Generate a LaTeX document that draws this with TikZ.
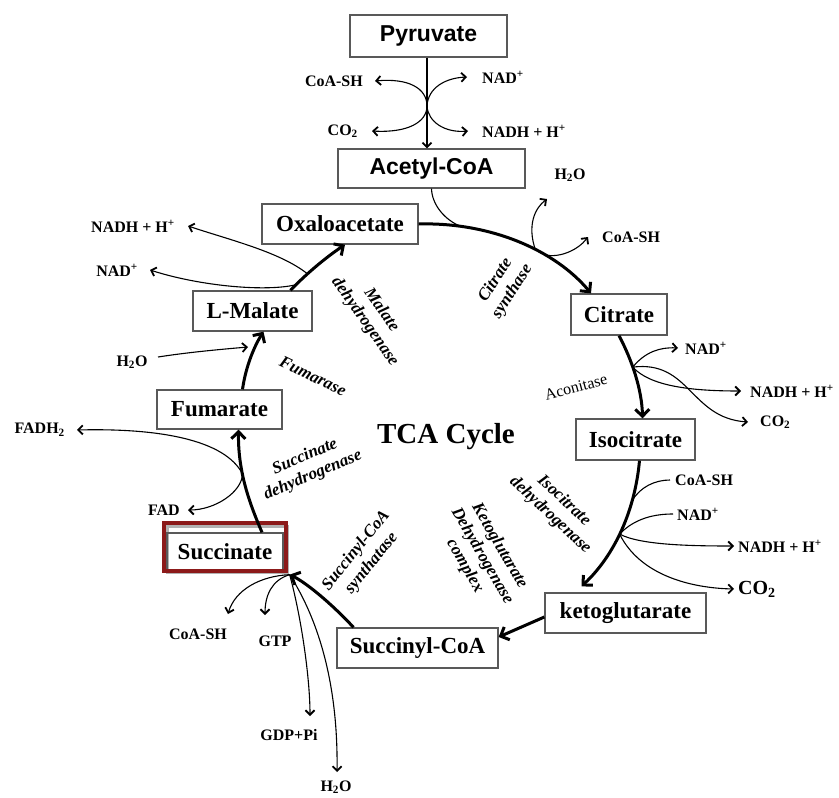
\documentclass[tikz,border=0pt]{standalone}
\usepackage{fontspec}
\setmainfont{Liberation Serif}
\newfontfamily\arialfont{Liberation Sans}
\usetikzlibrary{arrows.meta,calc}
\definecolor{boxgray}{gray}{0.35}
\definecolor{sucred}{RGB}{140,26,26}
\begin{document}
\begin{tikzpicture}[x=1pt,y=-1pt,
 box/.style={draw=boxgray,line width=1.3pt,inner sep=0pt,font=\fontsize{23}{26}\selectfont\bfseries},
 sansbox/.style={box,font=\fontsize{23}{26}\selectfont\arialfont\bfseries},
 lbl/.style={font=\fontsize{16}{18}\selectfont\bfseries,inner sep=0pt},
 enz/.style={font=\fontsize{17}{20}\selectfont\bfseries\itshape,align=center,inner sep=0pt},
 cyc/.style={line width=3pt,-{Straight Barb[length=7pt,width=14pt,line width=3pt]}},
 side/.style={line width=1.1pt,-{Straight Barb[length=4.5pt,width=9pt,line width=1.8pt]}},
 sideline/.style={line width=1.1pt},
]
\useasboundingbox (0,0) rectangle (839,798);

% boxes
\node[sansbox,minimum width=157pt,minimum height=42pt] (pyr) at (428.5,36) {Pyruvate};
\node[sansbox,minimum width=187pt,minimum height=39pt] (acc) at (431.5,168.5) {Acetyl-CoA};
\node[box,minimum width=156pt,minimum height=40pt] (oaa) at (340,224) {Oxaloacetate};
\node[box,minimum width=96pt,minimum height=41pt] (cit) at (619,314.5) {Citrate};
\node[box,minimum width=119pt,minimum height=41pt] (iso) at (635.5,439.5) {Isocitrate};
\node[box,minimum width=161pt,minimum height=40pt] (kg) at (625.5,613) {ketoglutarate};
\node[box,minimum width=161pt,minimum height=40pt] (scoa) at (417.5,648) {Succinyl-CoA};
\node[box,minimum width=125pt,minimum height=39pt] (fum) at (219.5,409.5) {Fumarate};
\node[box,minimum width=119pt,minimum height=40pt] (mal) at (252.5,311) {L-Malate};
\draw[black!30,line width=3pt] ($(165,524)+(2,2)$) rectangle ($(285,570)+(2,2)$);
\node[box,minimum width=116pt,minimum height=37pt] (suc) at (225,551.5) {Succinate};
\draw[sucred,line width=4pt] ($(suc.north west)+(-2,-9)$) rectangle ($(suc.south east)+(2,0)$);

\node[font=\fontsize{29}{32}\selectfont\bfseries] (tca) at (446,437) {TCA Cycle};

% small labels
\node[lbl,anchor=east] (pCoA) at (363,81) {CoA-SH};
\node[lbl,anchor=west] (pNAD) at (482,77) {NAD\textsuperscript{+}};
\node[lbl,anchor=east] (pCO2) at (358,131) {CO\textsubscript{2}};
\node[lbl,anchor=west] (pNADH) at (482,131) {NADH + H\textsuperscript{+}};
\node[lbl] (cH2O) at (570,175) {H\textsubscript{2}O};
\node[lbl,anchor=west] (cCoA) at (602,237) {CoA-SH};
\node[lbl,anchor=west] (iNAD) at (685,348) {NAD\textsuperscript{+}};
\node[lbl,anchor=west] (iNADH) at (750,391) {NADH + H\textsuperscript{+}};
\node[lbl,anchor=west] (iCO2) at (760,422) {CO\textsubscript{2}};
\node[lbl,anchor=west] (kCoA) at (675,480) {CoA-SH};
\node[lbl,anchor=west] (kNAD) at (677,514) {NAD\textsuperscript{+}};
\node[lbl,anchor=west] (kNADH) at (738,546) {NADH + H\textsuperscript{+}};
\node[lbl,anchor=west,font=\fontsize{20}{22}\selectfont\bfseries] (kCO2) at (738,589) {CO\textsubscript{2}};
\node[lbl] (sCoA) at (198,634) {CoA-SH};
\node[lbl] (sGTP) at (275,641) {GTP};
\node[lbl] (sGDP) at (289,735) {GDP+Pi};
\node[lbl] (sH2O) at (336,787) {H\textsubscript{2}O};
\node[lbl,anchor=east] (fFADH) at (65,430) {FADH\textsubscript{2}};
\node[lbl,anchor=east] (fFAD) at (180,510) {FAD};
\node[lbl] (mH2O) at (132,362) {H\textsubscript{2}O};
\node[lbl,anchor=east] (mNADH) at (175,226) {NADH + H\textsuperscript{+}};
\node[lbl,anchor=east] (mNAD) at (138,270) {NAD\textsuperscript{+}};

% enzymes
\node[enz,rotate=57] (ez1) at (504,286) {Citrate\\synthase};
\node[font=\fontsize{16}{18}\selectfont,rotate=15,inner sep=0pt] (ez2) at (576,387) {Aconitase};
\node[enz,rotate=-43] (ez3) at (557,508) {Isocitrate\\dehydrogenase};
\node[enz,rotate=-60] (ez4) at (482,556) {Ketoglutarate\\Dehydrogenase\\complex};
\node[enz,rotate=51] (ez5) at (364,557) {Succinyl-CoA\\synthatase};
\node[enz,rotate=23] (ez6) at (309,466) {Succinate\\dehydrogenase};
\node[enz,rotate=-26] (ez7) at (313,376) {Fumarase};
\node[enz,rotate=-55] (ez8) at (373,316) {Malate\\dehydrogenase};

% pyruvate -> acetyl-CoA
\coordinate (X) at (427,106);
\draw[side] (pyr.south -| X) -- (acc.north -| X);
\draw[side] (X) .. controls (427,88) and (408,78) .. ([xshift=12pt]pCoA.east);
\draw[side] (X) .. controls (427,122) and (408,133) .. ([xshift=14pt]pCO2.east);
\draw[side] (X) .. controls (428,88) and (445,78) .. ([xshift=-15pt]pNAD.west);
\draw[side] (X) .. controls (428,122) and (445,133) .. ([xshift=-14pt]pNADH.west);

% oxaloacetate -> citrate
\draw[cyc] (oaa.east) .. controls (490,222) and (555,250) .. ([xshift=-28pt]cit.north)
  coordinate[pos=0.2] (ac) coordinate[pos=0.6] (wb) coordinate[pos=0.66] (cb);
\draw[sideline] (acc.south) .. controls (432,205) and (445,220) .. (ac);
\coordinate (tcH2O) at (547,199);
\draw[side] (wb) .. controls (527,225) and (535,208) .. (tcH2O);
\draw[side] (cb) .. controls (560,258) and (578,250) .. ([xshift=-14pt]cCoA.west);

% citrate -> isocitrate
\draw[cyc] (cit.south) .. controls (632,360) and (642,390) .. ([xshift=7pt]iso.north)
  coordinate[pos=0.4] (ab);
\draw[side] (ab) .. controls (645,352) and (660,347) .. ([xshift=-7pt]iNAD.west);
\draw[side] (ab) .. controls (650,386) and (690,391) .. ([xshift=-9pt]iNADH.west);
\draw[side] (ab) .. controls (690,360) and (690,418) .. ([xshift=-12pt]iCO2.west);

% isocitrate -> ketoglutarate
\draw[cyc] ([xshift=4pt]iso.south) .. controls (635,510) and (615,555) .. ([xshift=-44pt,yshift=6pt]kg.north)
  coordinate[pos=0.28] (kb1) coordinate[pos=0.53] (kb2);
\draw[sideline] (kb1) .. controls (640,487) and (655,480) .. ([xshift=-5pt]kCoA.west);
\draw[sideline] (kb2) .. controls (635,518) and (655,514) .. ([xshift=-4pt]kNAD.west);
\draw[side] (kb2) .. controls (640,545) and (690,546) .. ([xshift=-4pt]kNADH.west);
\draw[side] (kb2) .. controls (640,575) and (690,588) .. ([xshift=-4pt]kCO2.west);

% ketoglutarate -> succinyl-CoA
\draw[cyc] ([yshift=-4pt]kg.west) -- ([yshift=11pt]scoa.east);

% succinyl-CoA -> succinate
\coordinate (J) at ([xshift=6pt,yshift=-4pt]suc.south east);
\draw[cyc] ([xshift=-64pt]scoa.north) .. controls (330,602) and (305,582) .. (J);
\coordinate (tsCoA) at (228,614);
\coordinate (tsGTP) at (265,615);
\coordinate (tsGDP) at (310,716);
\coordinate (tsH2O) at (337,772);
\draw[side] (J) .. controls (260,576) and (235,590) .. (tsCoA);
\draw[side] (J) .. controls (272,580) and (265,595) .. (tsGTP);
\draw[side] (J) .. controls (302,620) and (310,680) .. (tsGDP);
\draw[side] (J) .. controls (325,630) and (338,700) .. (tsH2O);

% succinate -> fumarate
\draw[cyc] ([xshift=37pt]suc.north) .. controls (248,500) and (238,470) .. ([xshift=19pt]fum.south)
  coordinate[pos=0.6] (fb);
\draw[side] (fb) .. controls (225,440) and (160,428) .. ([xshift=12pt]fFADH.east);
\draw[side] (fb) .. controls (242,492) and (215,510) .. ([xshift=8pt]fFAD.east);

% fumarate -> L-malate
\draw[cyc] ([xshift=23pt]fum.north) .. controls (246,365) and (255,345) .. ([xshift=11pt]mal.south);
\coordinate (mw) at (158,357);
\coordinate (tmH2O) at (248,347);
\draw[side] (mw) .. controls (190,352) and (225,349) .. (tmH2O);

% L-malate -> oxaloacetate
\draw[cyc] ([xshift=38pt]mal.north) .. controls (305,275) and (325,258) .. ([xshift=5pt]oaa.south)
  coordinate[pos=0.35] (mb1) coordinate[pos=0.12] (mb2);
\draw[side] (mb1) .. controls (280,252) and (230,240) .. ([xshift=13pt]mNADH.east);
\draw[side] (mb2) .. controls (265,292) and (200,286) .. ([xshift=12pt]mNAD.east);
\end{tikzpicture}
\end{document}
